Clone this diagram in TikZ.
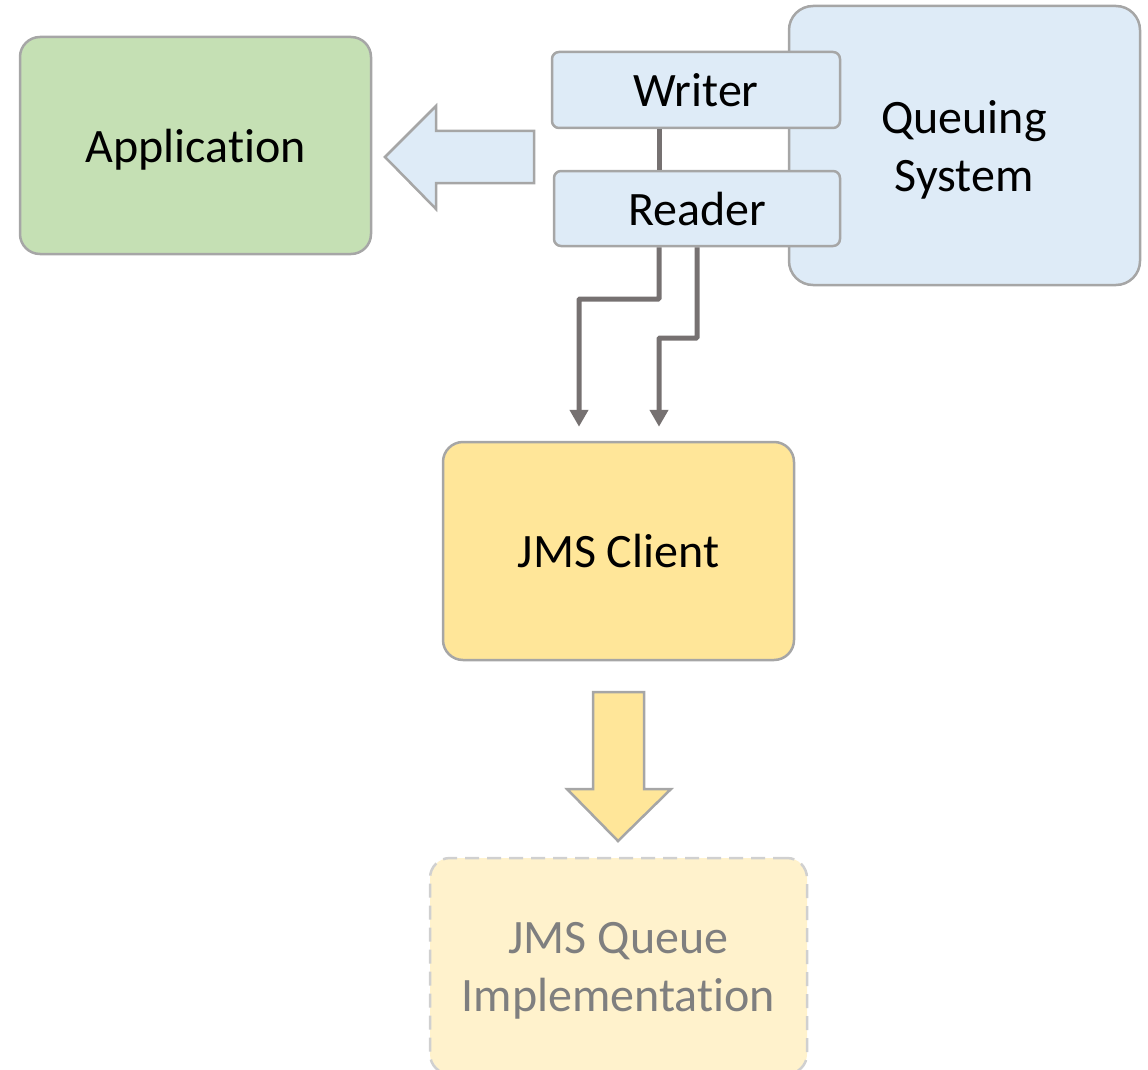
\documentclass[tikz,border=0pt]{standalone}
\usepackage{fontspec}
\setmainfont{Carlito}[Ligatures=NoCommon]
\usetikzlibrary{arrows.meta}
\definecolor{appgreen}{HTML}{C5E0B4}
\definecolor{qblue}{HTML}{DEEBF7}
\definecolor{jmsyellow}{HTML}{FFE699}
\definecolor{implyellow}{HTML}{FFF2CC}
\definecolor{edgegray}{HTML}{A6A6A6}
\definecolor{dashgray}{HTML}{D0D0D0}
\definecolor{linkgray}{HTML}{767171}
\definecolor{faintText}{HTML}{7F7F7F}
\tikzset{
  labelfont/.style={font=\fontsize{48}{58}\selectfont},
  box/.style={draw=edgegray, line width=2.5pt, rounded corners=20pt, inner sep=0pt,
    align=center, labelfont, text height=38pt, text depth=5pt},
  port/.style={box, fill=qblue, rounded corners=7pt},
  link/.style={draw=linkgray, line width=5pt},
  tipped/.style={link, -{Triangle[width=18pt,length=17pt]}},
  fatarrow/.style={draw=edgegray, line width=2.5pt, line join=miter},
}
\begin{document}
\begin{tikzpicture}[x=1pt,y=-1pt]
\useasboundingbox (0,0) rectangle (1148,1070);

% main components
\node[box, fill=appgreen, minimum width=351pt, minimum height=217pt] (app) at (195.5,145.5) {Application};
\node[box, fill=qblue, rounded corners=24pt, minimum width=351pt, minimum height=279pt] (qs) at (964.5,145.5) {};
\node[labelfont, align=center, inner sep=0pt] (qslabel) at (964,150) {Queuing\\System};
\node[port, minimum width=288pt, minimum height=76pt] (writer) at (696,90) {Writer};
\node[port, minimum width=286pt, minimum height=75pt] (reader) at (697,208.5) {Reader};
\node[box, fill=jmsyellow, minimum width=351pt, minimum height=218pt] (client) at (618.5,551) {JMS Client};
\node[box, fill=implyellow, draw=dashgray, dashed, dash pattern=on 14pt off 8pt,
  minimum width=377pt, minimum height=216pt] (impl) at (618.5,966) {};
\node[labelfont, align=center, inner sep=0pt, text=faintText] (impllabel) at (618.5,971)
  {JMS Queue\\Implementation};

% writer / reader link
\draw[link] (writer.south -| 659,0) -- (reader.north -| 659,0);

% reader outputs into the client
\coordinate (inA) at ([yshift=14pt]client.north -| 579,0);
\coordinate (inB) at ([yshift=14pt]client.north -| 659,0);
\draw[tipped, rounded corners=1pt] (reader.south -| 659,0) |- (579,299) -- (inA);
\draw[tipped, rounded corners=1pt] (reader.south -| 697,0) |- (659,338) -- (inB);

% block arrow towards the application
\draw[fatarrow, fill=qblue] (534,131) -- (436,131) -- (436,106) -- (385,157)
  -- (436,209) -- (436,183) -- (534,183) -- cycle;

% block arrow from the client down to the implementation
\draw[fatarrow, fill=jmsyellow] (593,692) -- (644,692) -- (644,789) -- (671,789)
  -- (618,841) -- (567,789) -- (593,789) -- cycle;
\end{tikzpicture}
\end{document}
